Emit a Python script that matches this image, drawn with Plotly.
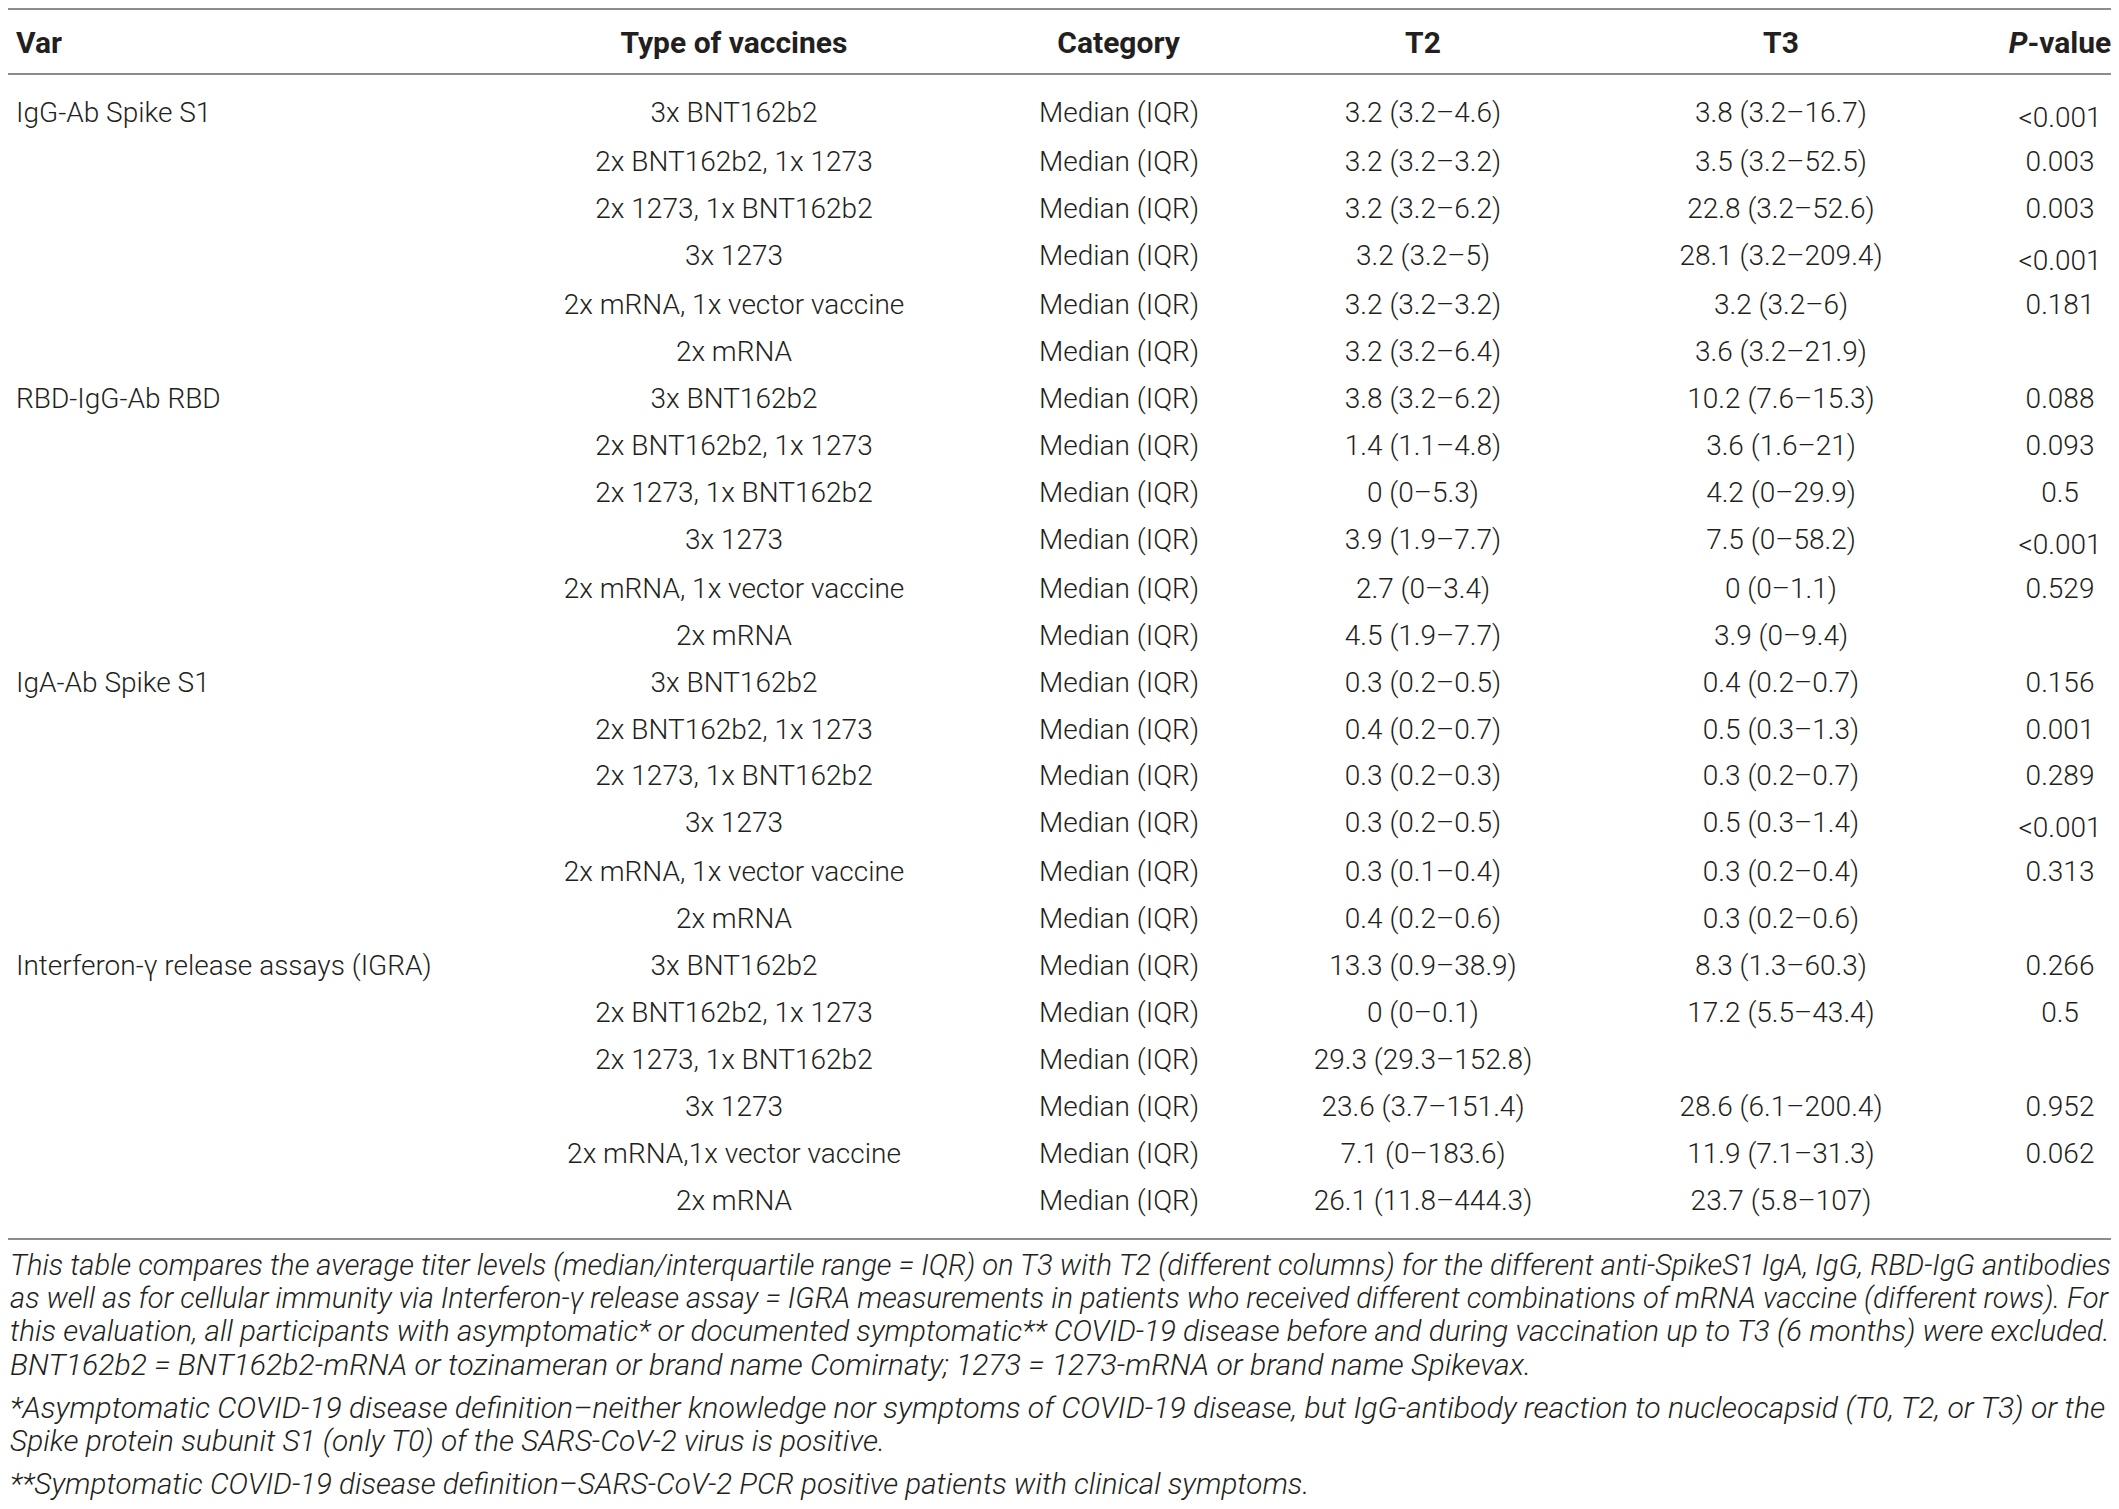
import plotly.graph_objects as go

# table content, one list per group of rows
var_names = ['IgG-Ab Spike S1', 'RBD-IgG-Ab RBD', 'IgA-Ab Spike S1', 'Interferon-γ release assays (IGRA)']
vaccine_types = [
    ['3x BNT162b2', '2x BNT162b2, 1x 1273', '2x 1273, 1x BNT162b2', '3x 1273', '2x mRNA, 1x vector vaccine', '2x mRNA'],
    ['3x BNT162b2', '2x BNT162b2, 1x 1273', '2x 1273, 1x BNT162b2', '3x 1273', '2x mRNA, 1x vector vaccine', '2x mRNA'],
    ['3x BNT162b2', '2x BNT162b2, 1x 1273', '2x 1273, 1x BNT162b2', '3x 1273', '2x mRNA, 1x vector vaccine', '2x mRNA'],
    ['3x BNT162b2', '2x BNT162b2, 1x 1273', '2x 1273, 1x BNT162b2', '3x 1273', '2x mRNA,1x vector vaccine', '2x mRNA'],
]
category = 'Median (IQR)'

t2_igg = ['3.2 (3.2–4.6)', '3.2 (3.2–3.2)', '3.2 (3.2–6.2)', '3.2 (3.2–5)', '3.2 (3.2–3.2)', '3.2 (3.2–6.4)']
t2_rbd = ['3.8 (3.2–6.2)', '1.4 (1.1–4.8)', '0 (0–5.3)', '3.9 (1.9–7.7)', '2.7 (0–3.4)', '4.5 (1.9–7.7)']
t2_iga = ['0.3 (0.2–0.5)', '0.4 (0.2–0.7)', '0.3 (0.2–0.3)', '0.3 (0.2–0.5)', '0.3 (0.1–0.4)', '0.4 (0.2–0.6)']
t2_igra = ['13.3 (0.9–38.9)', '0 (0–0.1)', '29.3 (29.3–152.8)', '23.6 (3.7–151.4)', '7.1 (0–183.6)', '26.1 (11.8–444.3)']

t3_igg = ['3.8 (3.2–16.7)', '3.5 (3.2–52.5)', '22.8 (3.2–52.6)', '28.1 (3.2–209.4)', '3.2 (3.2–6)', '3.6 (3.2–21.9)']
t3_rbd = ['10.2 (7.6–15.3)', '3.6 (1.6–21)', '4.2 (0–29.9)', '7.5 (0–58.2)', '0 (0–1.1)', '3.9 (0–9.4)']
t3_iga = ['0.4 (0.2–0.7)', '0.5 (0.3–1.3)', '0.3 (0.2–0.7)', '0.5 (0.3–1.4)', '0.3 (0.2–0.4)', '0.3 (0.2–0.6)']
t3_igra = ['8.3 (1.3–60.3)', '17.2 (5.5–43.4)', '', '28.6 (6.1–200.4)', '11.9 (7.1–31.3)', '23.7 (5.8–107)']

p_igg = ['&lt;0.001', '0.003', '0.003', '&lt;0.001', '0.181', '']
p_rbd = ['0.088', '0.093', '0.5', '&lt;0.001', '0.529', '']
p_iga = ['0.156', '0.001', '0.289', '&lt;0.001', '0.313', '']
p_igra = ['0.266', '0.5', '', '0.952', '0.062', '']

headers = ['Var', 'Type of vaccines', 'Category', 'T2', 'T3', '<i>P</i>-value']

footnotes = [
    'This table compares the average titer levels (median/interquartile range = IQR) on T3 with T2 (different columns) '
    'for the different anti-SpikeS1 IgA, IgG, RBD-IgG antibodies',
    'as well as for cellular immunity via Interferon-γ release assay = IGRA measurements in patients who received '
    'different combinations of mRNA vaccine (different rows). For',
    'this evaluation, all participants with asymptomatic* or documented symptomatic** COVID-19 disease before and '
    'during vaccination up to T3 (6 months) were excluded.',
    'BNT162b2 = BNT162b2-mRNA or tozinameran or brand name Comirnaty; 1273 = 1273-mRNA or brand name Spikevax.',
    '*Asymptomatic COVID-19 disease definition–neither knowledge nor symptoms of COVID-19 disease, but IgG-antibody '
    'reaction to nucleocapsid (T0, T2, or T3) or the',
    'Spike protein subunit S1 (only T0) of the SARS-CoV-2 virus is positive.',
    '**Symptomatic COVID-19 disease definition–SARS-CoV-2 PCR positive patients with clinical symptoms.',
]

# flatten the groups into table columns
col_var, col_type = [], []
for name, types in zip(var_names, vaccine_types):
    col_var += [name] + [''] * (len(types) - 1)
    col_type += types
n_rows = len(col_type)
col_cat = [category] * n_rows
col_t2 = t2_igg + t2_rbd + t2_iga + t2_igra
col_t3 = t3_igg + t3_rbd + t3_iga + t3_igra
col_p = p_igg + p_rbd + p_iga + p_igra

# the page body keeps its 8px margin, so the figure is 16px smaller than the window
W, H = 2103, 1493
FONT = 'Roboto'
TEXT = '#231f20'
RULE = '#8c8c8c'


def py(px):
    """pixel row from the top of the figure -> paper y"""
    return 1 - px / H


table = go.Table(
    domain=dict(x=[0, 1], y=[0, py(9)]),
    columnwidth=[515, 422, 348, 260, 456, 102],
    header=dict(
        values=['<b>%s</b>' % h for h in headers],
        align=['left', 'center', 'center', 'center', 'center', 'center'],
        height=76,
        font=dict(family=FONT, size=30, color=TEXT),
        fill_color='white',
        line=dict(width=0, color='white'),
    ),
    cells=dict(
        values=[col_var, col_type, col_cat, col_t2, col_t3, col_p],
        align=['left', 'center', 'center', 'center', 'center', 'center'],
        height=46.95,
        font=dict(family=FONT, size=28, color=TEXT, weight=300),
        fill_color='white',
        line=dict(width=0, color='white'),
    ),
)

fig = go.Figure(table)

# horizontal rules of the table
for y_px in [1, 66, 1231]:
    fig.add_shape(type='line', xref='paper', yref='paper', x0=0, x1=1,
                  y0=py(y_px), y1=py(y_px), line=dict(color=RULE, width=2))

# footnote lines below the table; the justified lines get a size that fills the width
foot_y = [1257, 1290, 1323, 1356, 1399, 1432, 1476]
foot_size = [29.2, 29.1, 29.6, 30.2, 30.2, 29.8, 29.6]
for text, y_px, size in zip(footnotes, foot_y, foot_size):
    fig.add_annotation(text='<i>%s</i>' % text, xref='paper', yref='paper', x=0, y=py(y_px),
                       xanchor='left', yanchor='middle', showarrow=False,
                       font=dict(family=FONT, size=size, color=TEXT, weight=300))

fig.update_layout(
    width=W, height=H,
    margin=dict(l=0, r=0, t=0, b=0),
    paper_bgcolor='white', plot_bgcolor='white',
)
fig.write_html('out.html')
